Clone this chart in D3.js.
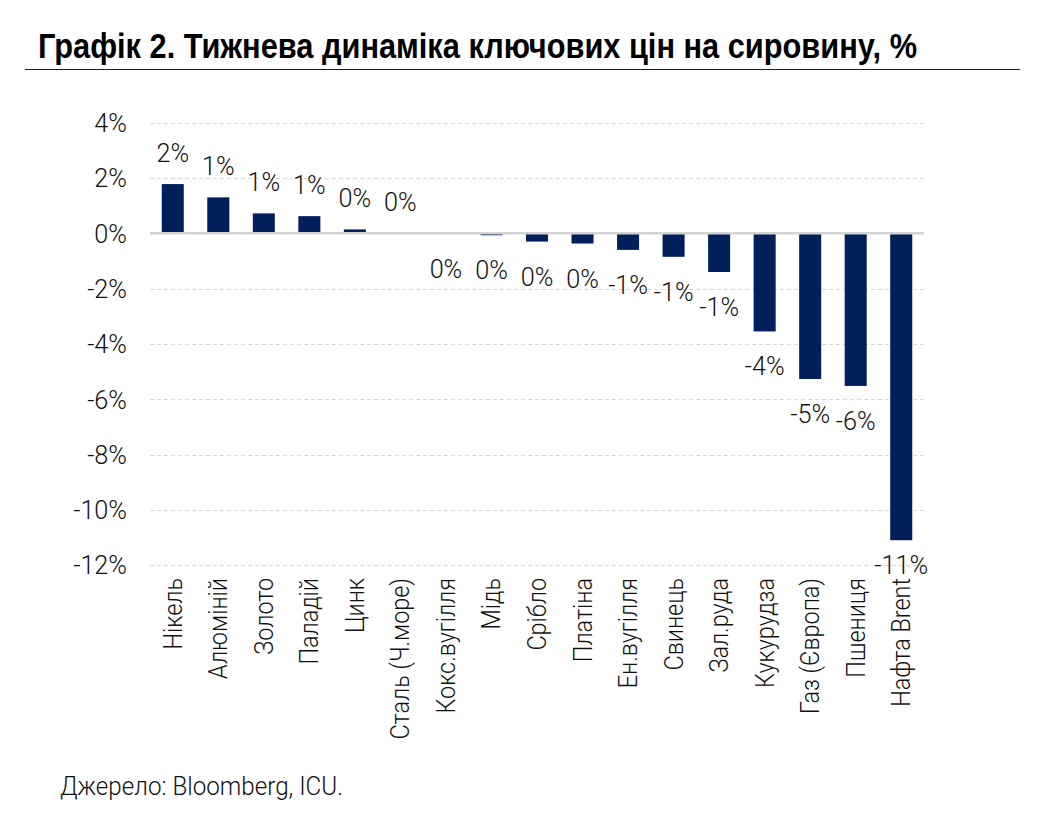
<!DOCTYPE html>
<html>
<head>
<meta charset="utf-8">
<script src="https://cdnjs.cloudflare.com/ajax/libs/d3/7.8.5/d3.min.js"></script>
<style>
  body { margin: 0; background: #fff; }
  svg text { font-family: Roboto, "Liberation Sans", Arial, sans-serif; font-weight: 300; fill: #111; }
  .title { font-family: "Liberation Sans", Arial, sans-serif; font-weight: bold; font-size: 35px; fill: #000; }
  .grid line { stroke: #d9d9d9; stroke-dasharray: 4,3; }
  .zero { stroke: #d4d4d4; stroke-width: 2.5; }
  .bar { fill: #001f5b; }
</style>
</head>
<body>
<div id="chart"></div>
<script>
  const categories = ["Нікель", "Алюміній", "Золото", "Паладій", "Цинк", "Сталь (Ч.море)", "Кокс.вугілля",
    "Мідь", "Срібло", "Платіна", "Ен.вугілля", "Свинець", "Зал.руда", "Кукурудза", "Газ (Європа)",
    "Пшениця", "Нафта Brent"];
  const values = [1.78, 1.3, 0.72, 0.62, 0.14, 0.0, -0.02, -0.07, -0.3, -0.37, -0.6, -0.85, -1.4, -3.55, -5.27, -5.52, -11.1];
  const yTicks = [4, 2, 0, -2, -4, -6, -8, -10, -12];

  const W = 1044, H = 827;
  const plot = {left: 150, right: 924, top: 122.7, bottom: 565.1};
  const fontSize = 26;
  const numSqueeze = 0.97;
  const catSqueeze = 0.9;

  const svg = d3.select("#chart").append("svg")
    .attr("width", W)
    .attr("height", H);

  svg.append("text")
    .attr("class", "title")
    .attr("x", 38)
    .attr("y", 58)
    .attr("textLength", 879)
    .attr("lengthAdjust", "spacingAndGlyphs")
    .text("Графік 2. Тижнева динаміка ключових цін на сировину, %");

  svg.append("line")
    .attr("x1", 25).attr("x2", 1020)
    .attr("y1", 69.5).attr("y2", 69.5)
    .attr("stroke", "#222")
    .attr("stroke-width", 1);

  const x = d3.scaleBand()
    .domain(categories)
    .range([plot.left, plot.right])
    .paddingInner(0.516)
    .paddingOuter(0.258);

  const y = d3.scaleLinear()
    .domain([-12, 4])
    .range([plot.bottom, plot.top]);

  // gridlines
  svg.append("g")
    .attr("class", "grid")
    .selectAll("line")
    .data(yTicks.filter(d => d !== 0))
    .join("line")
    .attr("x1", plot.left).attr("x2", plot.right)
    .attr("y1", d => Math.round(y(d)) + 0.5)
    .attr("y2", d => Math.round(y(d)) + 0.5);

  // y axis labels (own text so they can be squeezed)
  svg.append("g")
    .selectAll("text")
    .data(yTicks)
    .join("text")
    .attr("font-size", fontSize)
    .attr("text-anchor", "end")
    .attr("dy", "0.36em")
    .attr("transform", d => "translate(127," + y(d) + ") scale(" + numSqueeze + ",1)")
    .text(d => d + "%");

  // bars
  svg.append("g")
    .selectAll("rect")
    .data(values)
    .join("rect")
    .attr("class", "bar")
    .attr("x", (d, i) => x(categories[i]))
    .attr("width", x.bandwidth())
    .attr("y", d => y(Math.max(0, d)))
    .attr("height", d => Math.abs(y(d) - y(0)));

  // zero line
  svg.append("line")
    .attr("class", "zero")
    .attr("x1", plot.left).attr("x2", plot.right)
    .attr("y1", y(0)).attr("y2", y(0));

  // data labels
  svg.append("g")
    .selectAll("text")
    .data(values)
    .join("text")
    .attr("font-size", fontSize)
    .attr("text-anchor", "middle")
    .attr("transform", (d, i) => {
      const cx = x(categories[i]) + x.bandwidth() / 2;
      const ty = d >= 0 ? y(d) - 22 : Math.min(y(d) + 44, 574);
      return "translate(" + cx + "," + ty + ") scale(" + numSqueeze + ",1)";
    })
    .text(d => Math.round(d) + "%");

  // category labels
  svg.append("g")
    .selectAll("text")
    .data(categories)
    .join("text")
    .attr("font-size", fontSize)
    .attr("text-anchor", "end")
    .attr("transform", d => "translate(" + (x(d) + x.bandwidth() / 2 + 9) + ",578) rotate(-90) scale(" + catSqueeze + ",1)")
    .text(d => d);

  svg.append("text")
    .attr("x", 60)
    .attr("y", 795)
    .attr("font-size", fontSize)
    .attr("textLength", 283)
    .attr("lengthAdjust", "spacingAndGlyphs")
    .text("Джерело: Bloomberg, ICU.");
</script>
</body>
</html>
